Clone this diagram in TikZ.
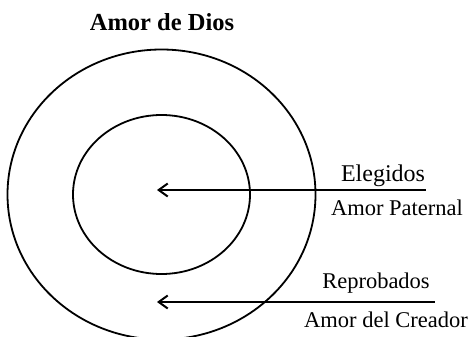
\documentclass[tikz,border=0pt]{standalone}
\usepackage{fontspec}
\setmainfont{Liberation Serif}
\usetikzlibrary{arrows.meta}
\begin{document}
\begin{tikzpicture}[x=1pt,y=-1pt]
            \tikzstyle{rond}=[draw,line width=1.8pt]
            \tikzstyle{etiquette}=[inner sep=0pt,anchor=base,font=\fontsize{22.5}{27}\selectfont]
            \tikzset{edge/.style = {{Straight Barb[length=9pt,width=13pt,line width=2pt]}-, line width=2pt}}
            \useasboundingbox (0,0) rectangle (471,337);
            \draw[rond] (161.5,194.5) ellipse [x radius=154, y radius=145];
            \draw[rond] (161.5,194.5) ellipse [x radius=88.5, y radius=79.5];
            \node[etiquette,font=\bfseries\fontsize{24.5}{29}\selectfont] (titre) at (162,31) {Amor de Dios};
            \coordinate (c1) at (157,190);
            \coordinate (d1) at (426,190);
            \coordinate (c2) at (157,302);
            \coordinate (d2) at (435,302);
            \draw[edge] (c1) -- (d1);
            \draw[edge] (c2) -- (d2);
            \node[etiquette,font=\fontsize{24}{29}\selectfont] (e) at (383,181) {Elegidos};
            \node[etiquette] (p) at (397,215) {Amor Paternal};
            \node[etiquette] (r) at (376,288) {Reprobados};
            \node[etiquette] (a) at (386,327) {Amor del Creador};
        \end{tikzpicture}
\end{document}
